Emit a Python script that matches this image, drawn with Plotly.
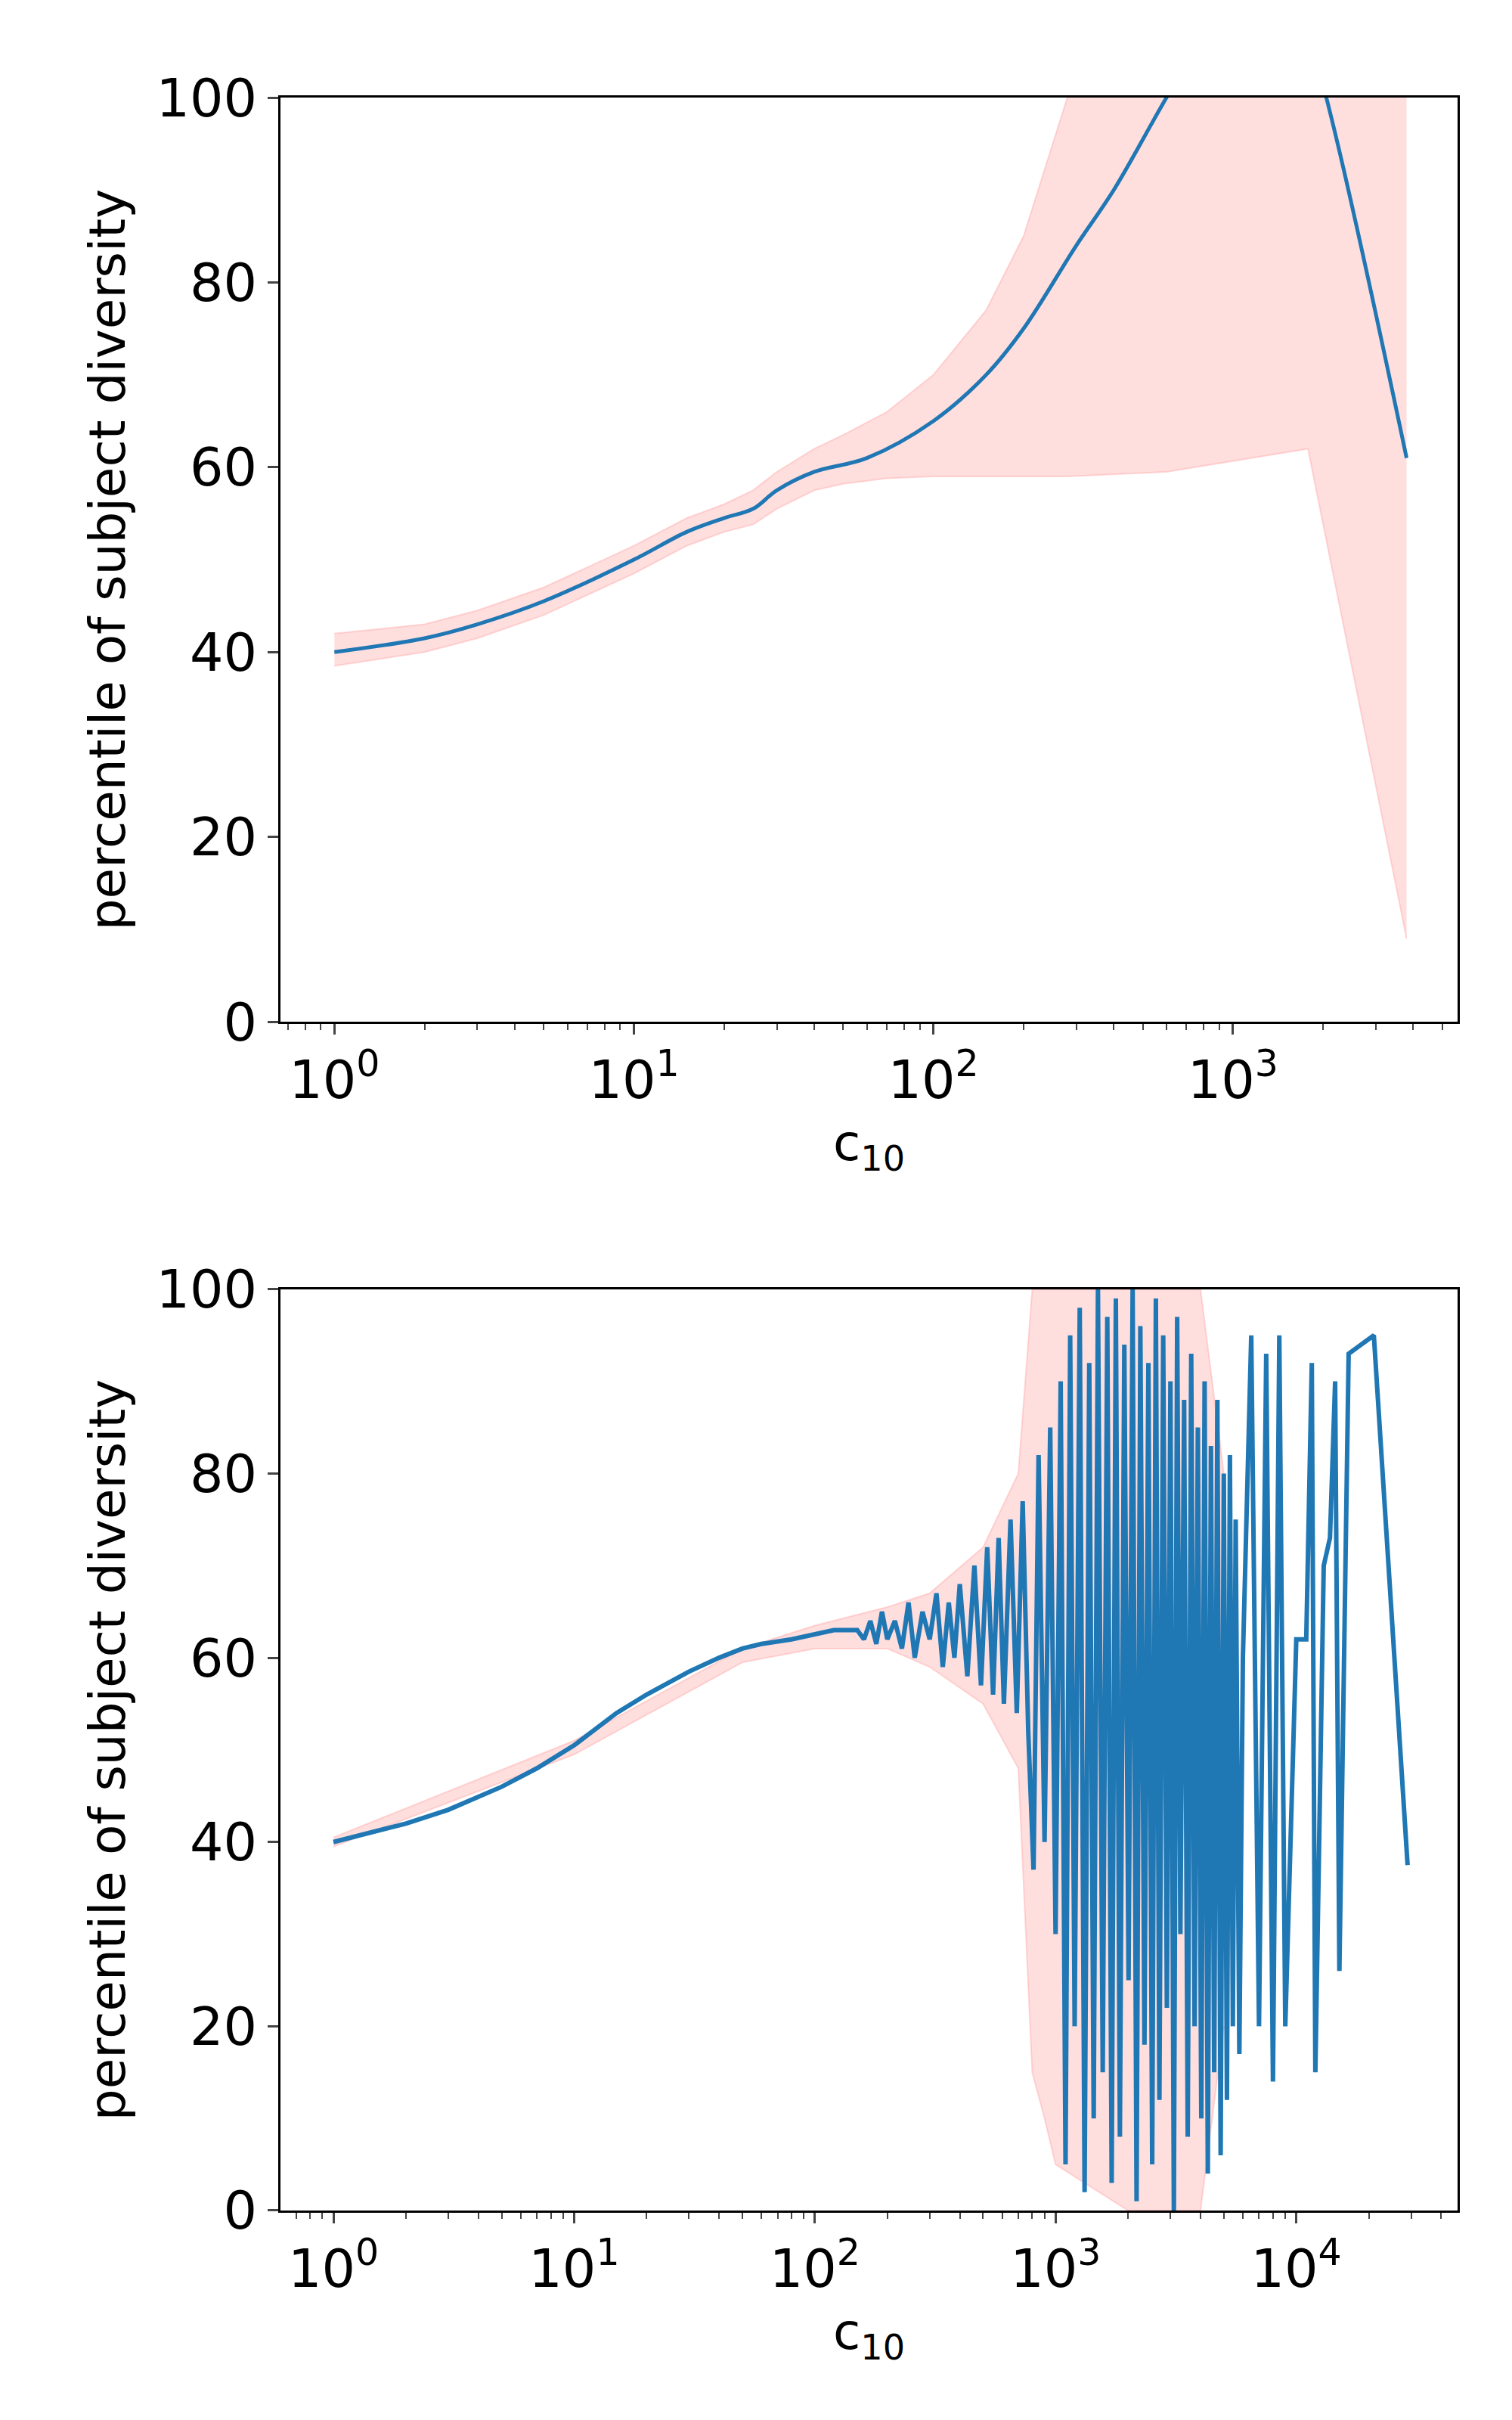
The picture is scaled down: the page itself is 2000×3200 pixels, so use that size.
import plotly.graph_objects as go

# ---- top panel: smooth mean curve with band ----
top_x = [1, 2, 3, 5, 10, 15, 20, 25, 30, 40, 60, 100, 150, 200, 300, 400, 600, 1000, 1500, 2050, 3800]
top_y = [40, 41.5, 43, 45.5, 50, 53, 54.5, 55.5, 57.5, 59.5, 61, 65, 70, 75, 84, 90, 100, 112, 115, 100, 61]

band_x = [1, 2, 3, 5, 10, 15, 20, 25, 30, 40, 50, 70, 100, 150, 200, 280, 600, 1780, 3800]
band_lo = [38.5, 40, 41.5, 44, 48.5, 51.5, 53, 53.8, 55.5, 57.5, 58.2, 58.8, 59, 59, 59, 59, 59.5, 62, 9]
band_hi = [42, 43, 44.5, 47, 51.5, 54.5, 56, 57.5, 59.5, 62, 63.5, 66, 70, 77, 85, 100, 120, 125, 125]

# ---- bottom panel: noisy mean curve ----
bot_x = [1, 2, 3, 5, 7, 10, 15, 20, 30, 40, 50, 60, 80, 100, 120,
         150, 160, 170, 180, 190, 200, 215, 230, 245, 260, 280, 300, 320, 340, 360, 380, 400,
         430, 460, 490, 520, 550, 580, 610, 650, 690, 730, 770, 810,
         850, 900, 950, 1000, 1050, 1100, 1150, 1200, 1260, 1320, 1380, 1440, 1500, 1570,
         1640, 1710, 1780, 1850, 1930, 2010, 2090, 2170, 2250, 2340, 2430, 2520, 2610, 2700,
         2800, 2900, 3000, 3100, 3200, 3300, 3420, 3540, 3660, 3780, 3900, 4030, 4160, 4290,
         4420, 4560, 4700, 4850, 5000, 5150, 5300, 5450, 5600, 5800, 6000,
         6500, 7000, 7500, 8000, 8500, 9000, 10000, 11000, 11600, 12000, 13000, 13800,
         14500, 15100, 16500, 21000, 29000]
bot_y = [40, 42, 43.5, 46, 48, 50.5, 54, 56, 58.5, 60, 61, 61.5, 62, 62.5, 63,
         63, 62, 64, 61.5, 65, 62, 64, 61, 66, 60, 65, 62, 67, 59, 66, 60, 68,
         58, 70, 57, 72, 56, 73, 55, 75, 54, 77, 52, 37,
         82, 40, 85, 30, 90, 5, 95, 20, 98, 2, 92, 10, 100, 15,
         97, 3, 99, 8, 94, 25, 100, 1, 96, 18, 92, 5, 99, 12,
         95, 22, 90, 0, 97, 30, 88, 8, 93, 20, 85, 10, 90, 4,
         83, 15, 88, 6, 80, 12, 82, 20, 75, 17, 60,
         95, 20, 93, 14, 95, 20, 62, 62, 92, 15, 70,
         73, 90, 26, 93, 95, 37.5]

bband_x = [1, 10, 50, 100, 200, 300, 500, 700, 800, 900, 1000, 2000, 4000, 5000]
bband_lo = [39.5, 49.5, 59.5, 61, 61, 59, 55, 48, 15, 10, 5, 0, 0, 20]
bband_hi = [40.5, 51, 61, 63.5, 65.5, 67, 72, 80, 100, 100, 100, 100, 100, 80]

blue = "#1f77b4"
pink_fill = "rgba(255,182,182,0.45)"
pink_line = "rgba(255,150,150,0.35)"

fig = go.Figure()

fig.add_trace(go.Scatter(x=band_x, y=band_lo, mode="lines", line=dict(color=pink_line, width=2),
                         showlegend=False, xaxis="x", yaxis="y"))
fig.add_trace(go.Scatter(x=band_x, y=band_hi, mode="lines", line=dict(color=pink_line, width=2),
                         fill="tonexty", fillcolor=pink_fill, showlegend=False, xaxis="x", yaxis="y"))
fig.add_trace(go.Scatter(x=top_x, y=top_y, mode="lines", line=dict(color=blue, width=5, shape="spline"),
                         showlegend=False, xaxis="x", yaxis="y"))

fig.add_trace(go.Scatter(x=bband_x, y=bband_lo, mode="lines", line=dict(color=pink_line, width=2),
                         showlegend=False, xaxis="x2", yaxis="y2"))
fig.add_trace(go.Scatter(x=bband_x, y=bband_hi, mode="lines", line=dict(color=pink_line, width=2),
                         fill="tonexty", fillcolor=pink_fill, showlegend=False, xaxis="x2", yaxis="y2"))
fig.add_trace(go.Scatter(x=bot_x, y=bot_y, mode="lines", line=dict(color=blue, width=6),
                         showlegend=False, xaxis="x2", yaxis="y2"))

font = dict(family="DejaVu Sans", size=70, color="black")
tfont = dict(family="DejaVu Sans", size=66, color="black")


def minor_vals(n_dec):
    return [m * 10 ** d for d in range(-1, n_dec + 1) for m in range(2, 10)]


def xax(rng, vals, anchor):
    return dict(type="log", range=rng, tickvals=vals,
                ticktext=[f"10<sup>{i}</sup>" for i in range(len(vals))],
                ticks="outside", ticklen=14, tickwidth=3, showline=True, linecolor="black",
                linewidth=3, mirror=True, showgrid=False, zeroline=False, tickfont=font,
                minor=dict(tickvals=minor_vals(len(vals)), ticks="outside", ticklen=8,
                           tickwidth=2, showgrid=False),
                title=dict(text="c<sub>10</sub>", font=tfont, standoff=20), anchor=anchor)


def yax(dom, anchor):
    return dict(domain=dom, range=[0, 100], tickvals=[0, 20, 40, 60, 80, 100],
                ticks="outside", ticklen=14, tickwidth=3, showline=True, linecolor="black",
                linewidth=3, mirror=True, showgrid=False, zeroline=False, tickfont=font,
                title=dict(text="percentile of subject diversity", font=tfont, standoff=20),
                anchor=anchor)


fig.update_layout(
    width=2000, height=3200,
    margin=dict(l=363, r=80, t=121, b=285),
    plot_bgcolor="white", paper_bgcolor="white",
    xaxis=xax([-0.18, 3.75], [1, 10, 100, 1000], "y"),
    yaxis=yax([0.5626, 1.0], "x"),
    xaxis2=xax([-0.22, 4.67], [1, 10, 100, 1000, 10000], "y2"),
    yaxis2=yax([0, 0.436], "x2"),
)

fig.write_html("out.html")
